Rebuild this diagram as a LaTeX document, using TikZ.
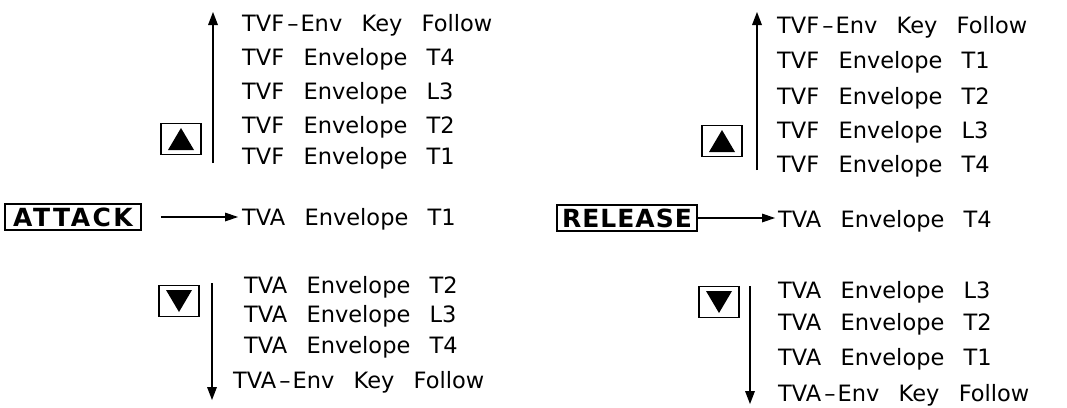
\documentclass[tikz,border=0pt]{standalone}
\usepackage{fontspec}
\setmainfont{DejaVu Sans}
\newfontfamily\lblfont[WordSpace=2.7]{DejaVu Sans}
\newfontfamily\keyfontA[LetterSpace=10]{DejaVu Sans}
\newfontfamily\keyfontB[LetterSpace=4]{DejaVu Sans}
\usetikzlibrary{calc}
\tikzset{
  item/.style={anchor=base west, inner sep=0pt, font=\lblfont\fontsize{22.5}{23}\selectfont},
  keybox/.style={draw, line width=1.6pt, inner sep=0pt, minimum height=26pt},
  btn/.style={draw, line width=1.6pt, inner sep=0pt, minimum width=40pt, minimum height=31pt},
  conn/.style={line width=1.2pt},
  tri/.style={fill=black}
}
\begin{document}
\begin{tikzpicture}[x=1pt,y=-1pt]
\useasboundingbox (0,0) rectangle (1067,407);
\newcommand{\dashw}{\kern3pt–\kern2pt}
\newcommand{\tipup}[1]{\fill[tri] (#1) -- ++(-5,13) -- ++(10,0) -- cycle;}
\newcommand{\tipdown}[1]{\fill[tri] (#1) -- ++(-5,-13) -- ++(10,0) -- cycle;}
\newcommand{\tipright}[1]{\fill[tri] (#1) -- ++(-13,-4.5) -- ++(0,9) -- cycle;}

% ---------- left group ----------
\node[item] (lu1) at (242,31) {TVF\dashw Env Key Follow};
\node[item] (lu2) at (242,65) {TVF Envelope T4};
\node[item] (lu3) at (242,99.5) {TVF Envelope L3};
\node[item] (lu4) at (242,133) {TVF Envelope T2};
\node[item] (lu5) at (242,164.5) {TVF Envelope T1};

\node[keybox, minimum width=136pt, font=\keyfontA\bfseries\fontsize{25}{25}\selectfont] (att) at (73,217) {ATTACK};
\node[item] (la) at (242,225) {TVA Envelope T1};

\node[item] (ld1) at (244,293) {TVA Envelope T2};
\node[item] (ld2) at (244,322) {TVA Envelope L3};
\node[item] (ld3) at (244,353) {TVA Envelope T4};
\node[item] (ld4) at (233,388) {TVA\dashw Env Key Follow};

\node[btn] (lup) at (181,139) {};
\fill[tri] (lup.center) ++(-13,11) -- ++(26,0) -- ++(-13,-22) -- cycle;
\node[btn] (ldn) at (179,301) {};
\fill[tri] (ldn.center) ++(-13,-11) -- ++(26,0) -- ++(-13,22) -- cycle;

\coordinate (lus) at (213,163);
\coordinate (lue) at (213,12);
\draw[conn] (lus) -- ($(lue)+(0,8)$);
\tipup{lue}
\coordinate (lds) at (212,283);
\coordinate (lde) at (212,400);
\draw[conn] (lds) -- ($(lde)+(0,-8)$);
\tipdown{lde}
\coordinate (atip) at ($(la.west |- att.east)+(-4,0)$);
\draw[conn, shorten <=19pt, shorten >=8pt] (att.east) -- (atip);
\tipright{atip}

% ---------- right group ----------
\node[item] (ru1) at (777,33) {TVF\dashw Env Key Follow};
\node[item] (ru2) at (777,68) {TVF Envelope T1};
\node[item] (ru3) at (777,104) {TVF Envelope T2};
\node[item] (ru4) at (777,138) {TVF Envelope L3};
\node[item] (ru5) at (777,172) {TVF Envelope T4};

\node[keybox, minimum width=140pt, font=\keyfontB\bfseries\fontsize{25}{25}\selectfont] (rel) at (627,218) {RELEASE};
\node[item] (ra) at (778,227) {TVA Envelope T4};

\node[item] (rd1) at (778,298) {TVA Envelope L3};
\node[item] (rd2) at (778,330) {TVA Envelope T2};
\node[item] (rd3) at (778,365) {TVA Envelope T1};
\node[item] (rd4) at (778,401) {TVA\dashw Env Key Follow};

\node[btn] (rup) at (722,141) {};
\fill[tri] (rup.center) ++(-13,11) -- ++(26,0) -- ++(-13,-22) -- cycle;
\node[btn] (rdn) at (719,302) {};
\fill[tri] (rdn.center) ++(-13,-11) -- ++(26,0) -- ++(-13,22) -- cycle;

\coordinate (rus) at (757,170);
\coordinate (rue) at (757,12);
\draw[conn] (rus) -- ($(rue)+(0,8)$);
\tipup{rue}
\coordinate (rds) at (750,286);
\coordinate (rde) at (750,404);
\draw[conn] (rds) -- ($(rde)+(0,-8)$);
\tipdown{rde}
\coordinate (rtip) at ($(ra.west |- rel.east)+(-3,0)$);
\draw[conn, shorten >=8pt] (rel.east) -- (rtip);
\tipright{rtip}
\end{tikzpicture}
\end{document}
